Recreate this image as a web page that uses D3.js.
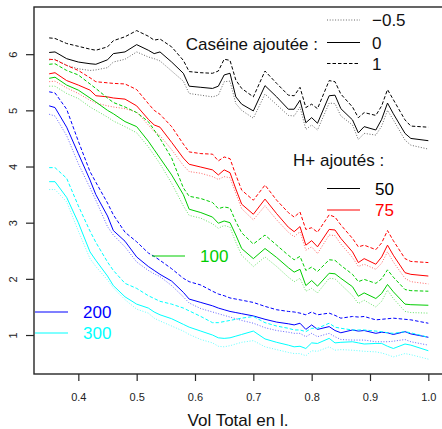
<!DOCTYPE html>
<html>
<head>
<meta charset="utf-8">
<script src="https://cdn.jsdelivr.net/npm/d3@7"></script>
<style>
  html, body { margin: 0; padding: 0; background: #fff; }
  svg { display: block; font-family: "Liberation Sans", Arial, sans-serif; }
</style>
</head>
<body>
<script>
// ---- data ----
const volTotal = [0.35, 0.36, 0.38, 0.40, 0.42, 0.43, 0.45, 0.46, 0.48, 0.50, 0.52, 0.53, 0.54, 0.56, 0.58,
  0.59, 0.61, 0.63, 0.64, 0.65, 0.66, 0.67, 0.68, 0.70, 0.72, 0.74, 0.76, 0.77, 0.78, 0.79,
  0.80, 0.81, 0.83, 0.84, 0.85, 0.87, 0.88, 0.89, 0.91, 0.92, 0.93, 0.94, 0.96, 0.97, 1.00];

// H+ 50
const h50_neg = [5.90, 5.91, 5.80, 5.74, 5.71, 5.72, 5.76, 5.86, 5.91, 6.04, 5.95, 5.92, 5.88, 5.70, 5.52,
  5.30, 5.27, 5.24, 5.27, 5.51, 5.52, 5.12, 5.00, 4.86, 5.29, 5.10, 4.91, 4.90, 5.06, 4.66,
  4.74, 4.65, 5.13, 5.12, 4.90, 4.74, 4.48, 4.59, 4.56, 4.72, 5.00, 4.83, 4.47, 4.38, 4.31];
const h50_zero = [6.03, 6.04, 5.92, 5.86, 5.83, 5.82, 5.90, 6.01, 6.04, 6.17, 6.07, 6.01, 6.04, 5.86, 5.66,
  5.43, 5.41, 5.39, 5.43, 5.63, 5.66, 5.24, 5.11, 4.99, 5.44, 5.24, 5.02, 5.02, 5.18, 4.78,
  4.87, 4.77, 5.26, 5.27, 5.03, 4.83, 4.60, 4.71, 4.65, 4.84, 5.13, 4.94, 4.59, 4.50, 4.46];
const h50_one = [6.29, 6.28, 6.19, 6.14, 6.09, 6.07, 6.13, 6.24, 6.31, 6.42, 6.32, 6.25, 6.27, 6.13, 5.89,
  5.69, 5.67, 5.66, 5.70, 5.91, 5.89, 5.54, 5.39, 5.24, 5.70, 5.48, 5.27, 5.26, 5.41, 5.05,
  5.11, 5.03, 5.53, 5.51, 5.29, 5.06, 4.87, 4.96, 4.91, 5.08, 5.37, 5.19, 4.83, 4.72, 4.70];

// H+ 75
const h75_neg = [5.51, 5.52, 5.40, 5.30, 5.18, 5.13, 5.08, 5.06, 5.03, 4.97, 4.74, 4.62, 4.55, 4.30, 4.02,
  3.91, 3.88, 3.82, 3.77, 3.82, 3.80, 3.52, 3.25, 3.05, 3.30, 3.05, 2.83, 2.75, 2.84, 2.51,
  2.57, 2.45, 2.78, 2.77, 2.62, 2.38, 2.22, 2.26, 2.17, 2.28, 2.48, 2.30, 2.01, 1.95, 1.91];
const h75_zero = [5.65, 5.67, 5.53, 5.45, 5.36, 5.26, 5.24, 5.22, 5.20, 5.08, 4.84, 4.74, 4.70, 4.43, 4.15,
  4.04, 3.99, 3.94, 3.85, 3.94, 3.89, 3.60, 3.33, 3.15, 3.42, 3.16, 2.92, 2.84, 2.93, 2.60,
  2.68, 2.57, 2.88, 2.87, 2.72, 2.48, 2.29, 2.36, 2.26, 2.39, 2.60, 2.42, 2.11, 2.08, 2.05];
const h75_one = [5.91, 5.90, 5.80, 5.71, 5.58, 5.51, 5.49, 5.48, 5.47, 5.37, 5.12, 5.00, 4.93, 4.71, 4.40,
  4.26, 4.23, 4.22, 4.10, 4.17, 4.14, 3.85, 3.58, 3.40, 3.67, 3.40, 3.18, 3.10, 3.19, 2.88,
  2.91, 2.83, 3.14, 3.10, 2.96, 2.72, 2.57, 2.60, 2.52, 2.64, 2.86, 2.68, 2.36, 2.31, 2.29];

// H+ 100
const h100_neg = [5.43, 5.43, 5.30, 5.21, 5.06, 5.00, 4.88, 4.81, 4.71, 4.60, 4.35, 4.20, 4.05, 3.70, 3.30,
  3.13, 3.08, 2.98, 2.90, 2.95, 2.92, 2.65, 2.42, 2.22, 2.39, 2.22, 2.03, 1.95, 2.01, 1.78,
  1.83, 1.75, 2.01, 2.00, 1.90, 1.70, 1.56, 1.62, 1.50, 1.60, 1.80, 1.65, 1.42, 1.40, 1.39];
const h100_zero = [5.57, 5.59, 5.45, 5.36, 5.22, 5.15, 5.00, 4.94, 4.80, 4.71, 4.45, 4.30, 4.15, 3.85, 3.50,
  3.24, 3.18, 3.10, 2.99, 3.03, 3.00, 2.78, 2.54, 2.36, 2.54, 2.38, 2.20, 2.12, 2.17, 1.88,
  1.97, 1.87, 2.10, 2.09, 2.01, 1.86, 1.69, 1.75, 1.65, 1.74, 1.90, 1.77, 1.55, 1.54, 1.53];
const h100_one = [5.82, 5.83, 5.71, 5.63, 5.47, 5.39, 5.22, 5.14, 5.06, 4.96, 4.80, 4.65, 4.50, 4.15, 3.62,
  3.47, 3.43, 3.36, 3.25, 3.28, 3.26, 3.02, 2.82, 2.62, 2.78, 2.60, 2.42, 2.34, 2.40, 2.15,
  2.21, 2.13, 2.34, 2.33, 2.24, 2.08, 1.95, 1.99, 1.92, 2.00, 2.16, 2.03, 1.81, 1.79, 1.78];

// H+ 200
const h200_neg = [4.93, 4.90, 4.55, 4.05, 3.62, 3.40, 2.93, 2.78, 2.57, 2.30, 2.15, 2.09, 2.04, 1.88, 1.68,
  1.57, 1.47, 1.41, 1.38, 1.35, 1.32, 1.29, 1.26, 1.21, 1.13, 1.08, 1.05, 1.03, 1.03, 0.97,
  1.03, 0.97, 1.03, 0.97, 0.92, 0.91, 0.91, 0.91, 0.88, 0.88, 0.88, 0.89, 0.92, 0.88, 0.82];
const h200_zero = [5.08, 5.05, 4.70, 4.23, 3.76, 3.50, 3.12, 2.86, 2.67, 2.39, 2.22, 2.15, 2.08, 1.96, 1.76,
  1.64, 1.58, 1.52, 1.48, 1.45, 1.42, 1.40, 1.38, 1.34, 1.28, 1.23, 1.20, 1.18, 1.21, 1.10,
  1.18, 1.10, 1.15, 1.08, 1.04, 1.09, 1.07, 1.08, 1.03, 1.05, 1.04, 1.01, 1.06, 1.02, 0.96];
const h200_one = [5.33, 5.31, 5.02, 4.45, 3.91, 3.72, 3.35, 3.14, 2.83, 2.66, 2.46, 2.40, 2.33, 2.18, 2.01,
  1.95, 1.89, 1.78, 1.73, 1.70, 1.66, 1.64, 1.62, 1.58, 1.51, 1.45, 1.42, 1.41, 1.39, 1.36,
  1.41, 1.36, 1.39, 1.35, 1.30, 1.33, 1.32, 1.33, 1.27, 1.28, 1.29, 1.30, 1.28, 1.27, 1.21];

// H+ 300
const h300_neg = [3.59, 3.59, 3.37, 2.85, 2.36, 2.22, 1.98, 1.84, 1.63, 1.46, 1.39, 1.30, 1.25, 1.16, 1.07,
  1.01, 0.92, 0.86, 0.80, 0.79, 0.81, 0.84, 0.87, 0.90, 0.79, 0.74, 0.69, 0.67, 0.67, 0.63,
  0.72, 0.71, 0.79, 0.73, 0.74, 0.73, 0.72, 0.71, 0.70, 0.68, 0.65, 0.61, 0.67, 0.65, 0.57];
const h300_zero = [3.73, 3.73, 3.45, 3.00, 2.48, 2.33, 2.05, 1.88, 1.68, 1.55, 1.48, 1.41, 1.36, 1.29, 1.19,
  1.14, 1.07, 1.00, 0.95, 0.94, 0.95, 0.98, 1.01, 1.07, 0.93, 0.87, 0.82, 0.79, 0.80, 0.76,
  0.86, 0.85, 0.94, 0.86, 0.87, 0.88, 0.86, 0.84, 0.85, 0.85, 0.80, 0.76, 0.84, 0.82, 0.72];
const h300_one = [3.98, 3.98, 3.79, 3.30, 2.85, 2.65, 2.30, 2.15, 1.92, 1.83, 1.70, 1.65, 1.60, 1.55, 1.48,
  1.43, 1.33, 1.22, 1.22, 1.24, 1.26, 1.28, 1.30, 1.33, 1.22, 1.16, 1.12, 1.09, 1.09, 1.06,
  1.12, 1.12, 1.21, 1.14, 1.12, 1.09, 1.09, 1.09, 1.07, 1.06, 1.04, 1.03, 1.06, 1.04, 0.96];

const xTicks = [0.4, 0.5, 0.6, 0.7, 0.8, 0.9, 1.0];
const yTicks = [1, 2, 3, 4, 5, 6];
const hLevels = ["50", "75", "100", "200", "300"];
const caseinLevels = ["\u22120.5", "0", "1"];

// ---- styles ----
const hColor = { "50": "#000000", "75": "#ff0000", "100": "#00cd00", "200": "#0000ff", "300": "#00ffff" };
const caseinDash = { "\u22120.5": "1,1.7", "0": null, "1": "3.5,2" };
const caseinOpacity = { "\u22120.5": 0.6, "0": 1, "1": 1 };

const series = [
  { h: "50", c: "\u22120.5", v: h50_neg }, { h: "50", c: "0", v: h50_zero }, { h: "50", c: "1", v: h50_one },
  { h: "75", c: "\u22120.5", v: h75_neg }, { h: "75", c: "0", v: h75_zero }, { h: "75", c: "1", v: h75_one },
  { h: "100", c: "\u22120.5", v: h100_neg }, { h: "100", c: "0", v: h100_zero }, { h: "100", c: "1", v: h100_one },
  { h: "200", c: "\u22120.5", v: h200_neg }, { h: "200", c: "0", v: h200_zero }, { h: "200", c: "1", v: h200_one },
  { h: "300", c: "\u22120.5", v: h300_neg }, { h: "300", c: "0", v: h300_zero }, { h: "300", c: "1", v: h300_one }
];

// ---- layout ----
const width = 442, height = 429;
const plot = { left: 34, right: 443.5, top: 7, bottom: 374 };

const svg = d3.select("body").append("svg")
  .attr("width", width)
  .attr("height", height);

const x = d3.scaleLinear().domain([0.324, 1.026]).range([plot.left, plot.right]);
const y = d3.scaleLinear().domain([0.306, 6.84]).range([plot.bottom, plot.top]);

// curves
const line = d3.line()
  .x((d, i) => x(volTotal[i]))
  .y(d => y(d));

svg.append("g").attr("class", "curves")
  .selectAll("path")
  .data(series)
  .join("path")
  .attr("d", d => line(d.v))
  .attr("fill", "none")
  .attr("stroke", d => hColor[d.h])
  .attr("stroke-opacity", d => caseinOpacity[d.c])
  .attr("stroke-width", 1)
  .attr("stroke-dasharray", d => caseinDash[d.c]);

// box
svg.append("rect")
  .attr("x", plot.left)
  .attr("y", plot.top)
  .attr("width", plot.right - plot.left)
  .attr("height", plot.bottom - plot.top)
  .attr("fill", "none")
  .attr("stroke", "#262626")
  .attr("stroke-width", 1.4);

// axes
const xAxis = svg.append("g")
  .attr("transform", `translate(0,${plot.bottom})`)
  .call(d3.axisBottom(x).tickValues(xTicks).tickFormat(d3.format(".1f")).tickSize(7).tickPadding(12));
xAxis.select(".domain").remove();
xAxis.selectAll("line").attr("stroke", "#262626").attr("stroke-width", 1.2);
xAxis.selectAll("text").attr("font-size", 11).attr("fill", "#222")
  .attr("font-family", "'Liberation Sans', Arial, sans-serif");

const yAxis = svg.append("g")
  .attr("transform", `translate(${plot.left},0)`)
  .call(d3.axisLeft(y).tickValues(yTicks).tickFormat(d3.format("d")).tickSize(8));
yAxis.select(".domain").remove();
yAxis.selectAll("line").attr("stroke", "#262626").attr("stroke-width", 1.2);
yAxis.selectAll("text")
  .attr("transform", "rotate(-90)")
  .attr("text-anchor", "middle")
  .attr("x", 0)
  .attr("y", -17)
  .attr("dy", 0)
  .attr("font-size", 11)
  .attr("fill", "#222")
  .attr("font-family", "'Liberation Sans', Arial, sans-serif");

// x title
svg.append("text")
  .attr("x", (plot.left + width) / 2)
  .attr("y", 426)
  .attr("text-anchor", "middle")
  .attr("font-size", 17)
  .attr("fill", "#111")
  .text("Vol Total en l.");

// ---- legends ----
const legFont = 17;

// casein legend
svg.append("text")
  .attr("x", 318).attr("y", 50)
  .attr("text-anchor", "end")
  .attr("font-size", legFont)
  .attr("fill", "#111")
  .text("Caséine ajoutée :");

const caseinRows = [
  { c: "\u22120.5", yy: 20 },
  { c: "0", yy: 42.5 },
  { c: "1", yy: 63.5 }
];
const cLeg = svg.append("g").selectAll("g").data(caseinRows).join("g");
cLeg.append("line")
  .attr("x1", 327).attr("x2", 360)
  .attr("y1", d => d.yy).attr("y2", d => d.yy)
  .attr("stroke", "#000")
  .attr("stroke-opacity", d => caseinOpacity[d.c])
  .attr("stroke-dasharray", d => caseinDash[d.c]);
cLeg.append("text")
  .attr("x", 372).attr("y", d => d.yy + 6)
  .attr("font-size", legFont)
  .attr("fill", "#111")
  .text(d => d.c);

// H+ legend
svg.append("text")
  .attr("x", 293).attr("y", 166)
  .attr("font-size", legFont)
  .attr("fill", "#111")
  .text("H+ ajoutés :");

const hRows = [
  { h: "50", x0: 327, yy: 188.5 },
  { h: "75", x0: 327, yy: 210 },
  { h: "100", x0: 152, yy: 256 },
  { h: "200", x0: 35, yy: 312 },
  { h: "300", x0: 35, yy: 333 }
];
const hLeg = svg.append("g").selectAll("g").data(hRows).join("g");
hLeg.append("line")
  .attr("x1", d => d.x0).attr("x2", d => d.x0 + 33)
  .attr("y1", d => d.yy).attr("y2", d => d.yy)
  .attr("stroke", d => hColor[d.h])
  .attr("stroke-width", 1.2);
hLeg.append("text")
  .attr("x", d => d.x0 + 48).attr("y", d => d.yy + 6)
  .attr("font-size", legFont)
  .attr("fill", d => hColor[d.h])
  .text(d => d.h);
</script>
</body>
</html>
